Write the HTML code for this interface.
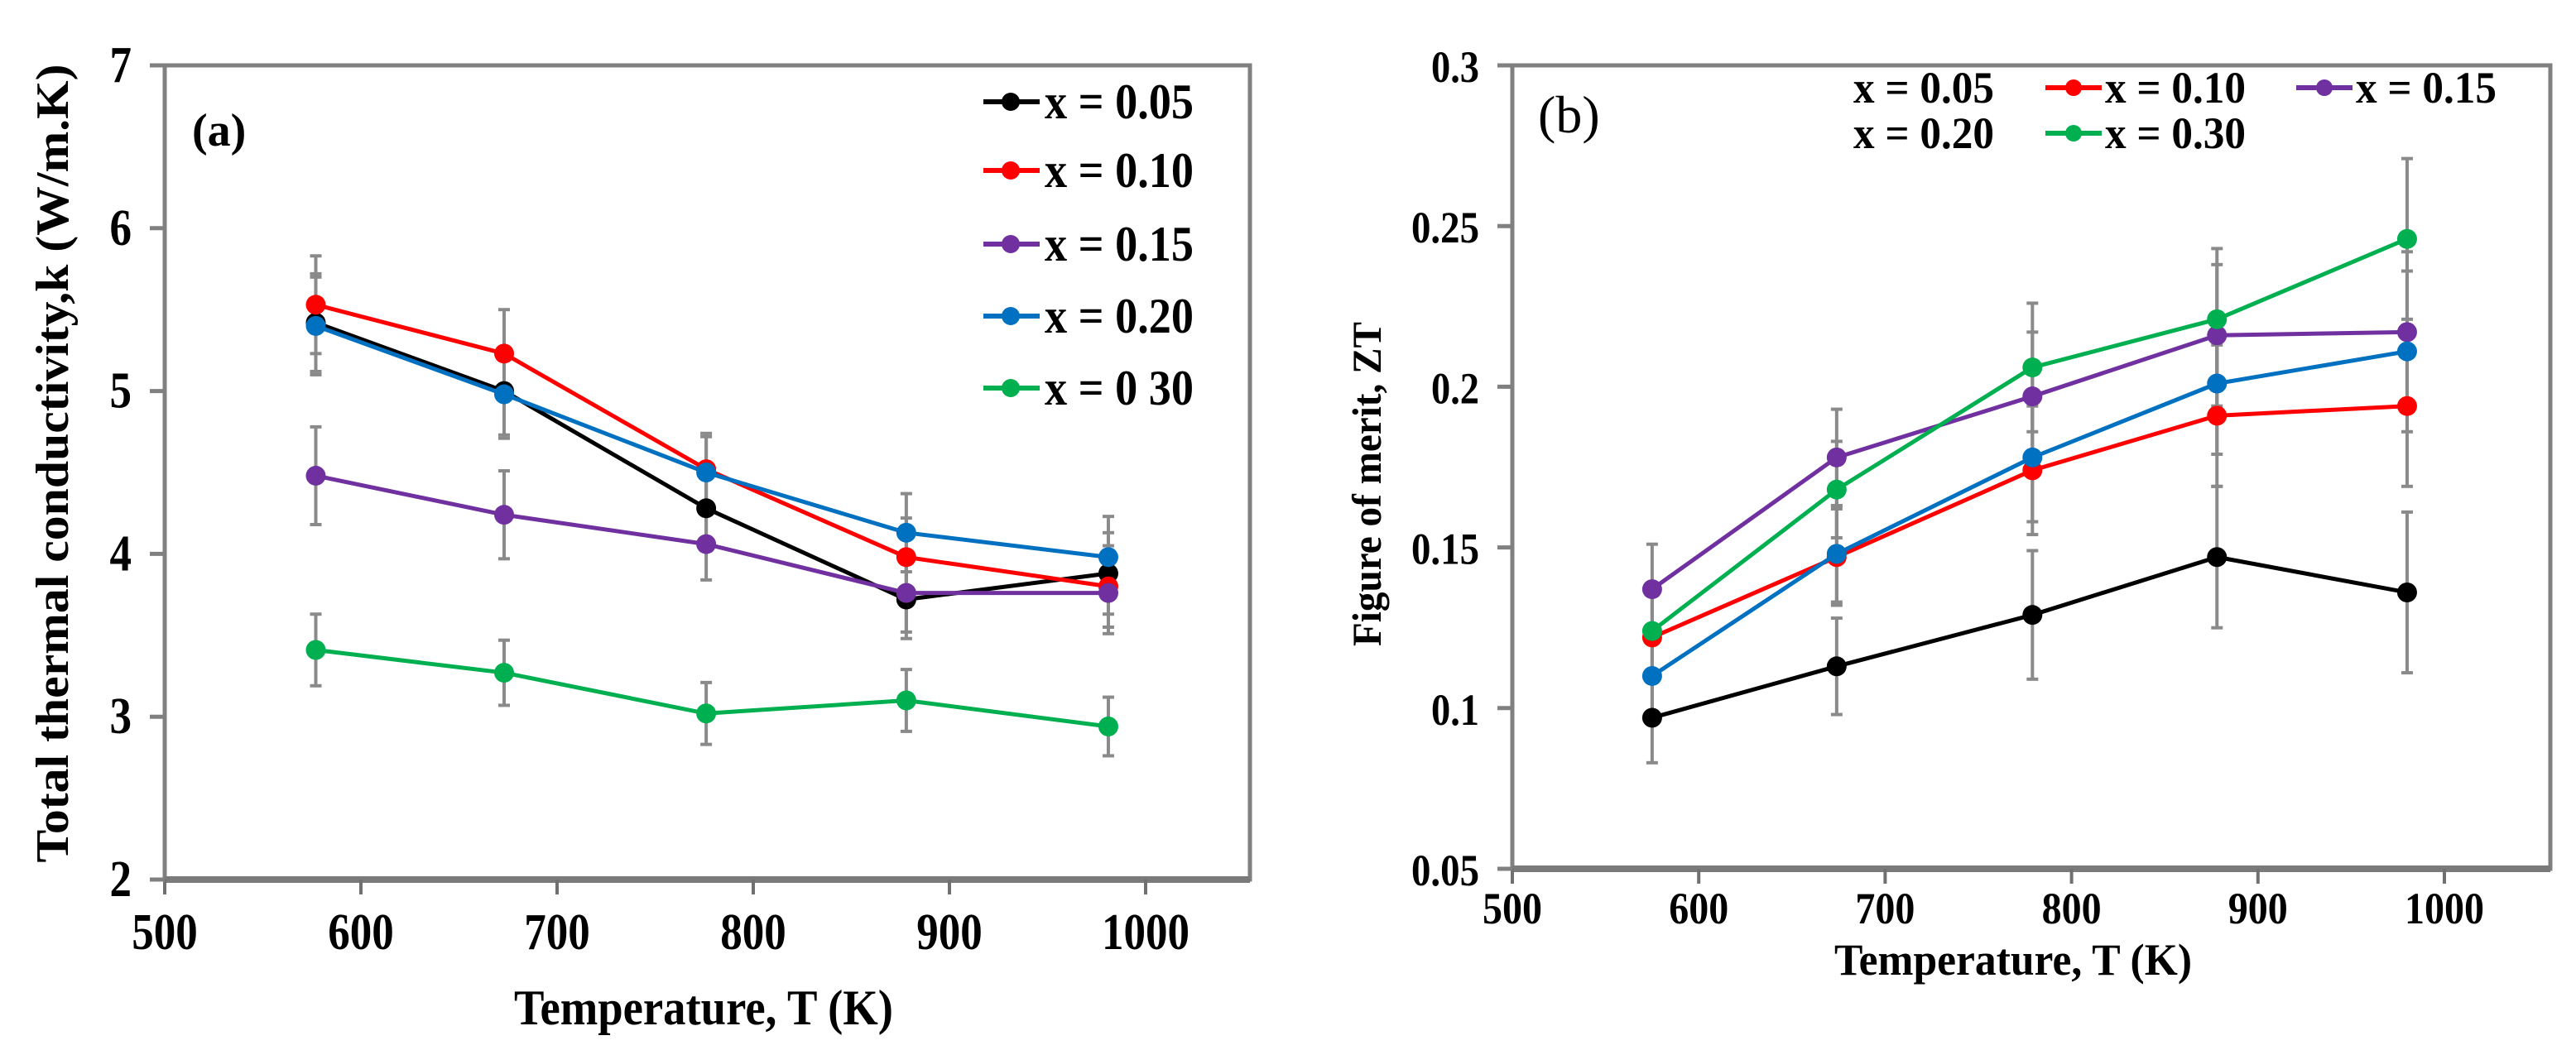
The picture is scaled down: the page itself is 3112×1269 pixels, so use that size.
<!DOCTYPE html>
<html><head><meta charset="utf-8"><style>
html,body{margin:0;padding:0;background:#fff;}
svg{display:block;font-family:"Liberation Serif",serif;font-weight:bold;}
</style></head><body>
<svg id="chart" width="3112" height="1269" viewBox="0 0 3112 1269" xmlns="http://www.w3.org/2000/svg"></svg>
<script>
const temps = [577, 673, 776, 878, 981];
const seriesNames = ["x = 0.05","x = 0.10","x = 0.15","x = 0.20","x = 0 30"];
const colors = ["#000000","#ff0000","#7030a0","#0070c0","#00b050"];
const kBlack = [5.42, 5.0, 4.28, 3.72, 3.88];
const kRed = [5.53, 5.23, 4.52, 3.98, 3.80];
const kPurple = [4.48, 4.24, 4.06, 3.76, 3.76];
const kBlue = [5.40, 4.98, 4.50, 4.13, 3.98];
const kGreen = [3.41, 3.27, 3.02, 3.10, 2.94];
const kErr = [0.3, 0.27, 0.22, 0.24, 0.25];
const kGreenErr = [0.22, 0.2, 0.19, 0.19, 0.18];
const ztTemps = [575, 674, 779, 878, 980];
const ztBlack = [0.097, 0.113, 0.129, 0.147, 0.136];
const ztRed = [0.122, 0.147, 0.174, 0.191, 0.194];
const ztPurple = [0.137, 0.178, 0.197, 0.216, 0.217];
const ztBlue = [0.110, 0.148, 0.178, 0.201, 0.211];
const ztGreen = [0.124, 0.168, 0.206, 0.221, 0.246];
const ztErr = [0.014, 0.015, 0.02, 0.022, 0.025];
const xTicks = [500, 600, 700, 800, 900, 1000];
const kTicks = [2, 3, 4, 5, 6, 7];
const ztTicks = [0.05, 0.1, 0.15, 0.2, 0.25, 0.3];
const ztTickLabels = ["0.05","0.1","0.15","0.2","0.25","0.3"];

const NS="http://www.w3.org/2000/svg";
const svg=document.getElementById('chart');
function mk(tag,attrs,parent,text){const e=document.createElementNS(NS,tag);for(const k in attrs)e.setAttribute(k,attrs[k]);if(text!==undefined)e.textContent=text;(parent||svg).appendChild(e);return e;}
function tlen(s,dw,pw){let n=0;for(const c of s){n+=(c==='.')?pw:dw;}return n;}

function panel(cfg){
  const g=mk('g',{});
  
  
  const X=v=>cfg.left+(v-500)/500*(cfg.x1000-cfg.left);
  const Y=v=>cfg.bottom-(v-cfg.ymin)/(cfg.ymax-cfg.ymin)*(cfg.bottom-cfg.top);
  const frame=mk('rect',{x:cfg.left,y:cfg.top,width:cfg.right-cfg.left,height:cfg.bottom-cfg.top,fill:'none',stroke:'#808080','stroke-width':5},g);
  
  
  mk('line',{x1:cfg.left,y1:cfg.bottom,x2:cfg.right,y2:cfg.bottom,stroke:'#7a7a7a','stroke-width':8},g);
  xTicks.forEach(t=>{
    const x=X(t);
    mk('line',{x1:x,y1:cfg.bottom,x2:x,y2:cfg.bottom+18,stroke:'#707070','stroke-width':4},g);
    const s=String(t);
    const lb=mk('text',{x:x,y:cfg.xLabelY,'text-anchor':'middle','font-size':cfg.tickSize,textLength:tlen(s,cfg.dw,cfg.pw),lengthAdjust:'spacingAndGlyphs'},g,s);
    
    
  });
  cfg.yTicks.forEach((t,i)=>{
    const y=Y(t);
    mk('line',{x1:cfg.left-18,y1:y,x2:cfg.left,y2:y,stroke:'#808080','stroke-width':5},g);
    const s=cfg.yLabels[i];
    const lb=mk('text',{x:cfg.yLabelRight,y:y+20,'text-anchor':'end','font-size':cfg.tickSize,textLength:tlen(s,cfg.dw,cfg.pw),lengthAdjust:'spacingAndGlyphs'},g,s);
    
    
  });
  const xt=mk('text',{x:cfg.xTitleX,y:cfg.xTitleY,'text-anchor':'middle','font-size':cfg.xTitleSize,textLength:cfg.xTitleLen,lengthAdjust:'spacingAndGlyphs'},g,'Temperature,  T (K)');
  
  
  const yt=mk('text',{x:0,y:0,'text-anchor':'middle','font-size':cfg.yTitleSize,textLength:cfg.yTitleLen,lengthAdjust:'spacingAndGlyphs',transform:`translate(${cfg.yTitleX},${cfg.yTitleY}) rotate(-90)`},g,cfg.yTitle);
  
  
  const pl=mk('text',{x:cfg.plX,y:cfg.plY,'font-size':cfg.plSize,'font-weight':cfg.plWeight},g,cfg.plText);
  
  
  cfg.series.forEach((s,si)=>{
    s.vals.forEach((v,i)=>{
      const x=X(cfg.xs[i]); const e=s.err[i];
      const eb=mk('g',{stroke:'#8a8a8a','stroke-width':4},g);
      
      
      mk('line',{x1:x,y1:Y(v-e),x2:x,y2:Y(v+e)},eb);
      mk('line',{x1:x-7,y1:Y(v-e),x2:x+7,y2:Y(v-e)},eb);
      mk('line',{x1:x-7,y1:Y(v+e),x2:x+7,y2:Y(v+e)},eb);
    });
  });
  cfg.series.forEach((s,si)=>{
    const sg=mk('g',{},g);
    
    
    const pts=s.vals.map((v,i)=>X(cfg.xs[i])+','+Y(v)).join(' ');
    mk('polyline',{points:pts,fill:'none',stroke:s.color,'stroke-width':5},sg);
    s.vals.forEach((v,i)=>{
      const c=mk('circle',{cx:X(cfg.xs[i]),cy:Y(v),r:12,fill:s.color},sg);
      
      
    });
  });
  return g;
}

panel({name:'panel-a-thermal-conductivity',left:199,right:1510,top:79,bottom:1063,x1000:1384,ymin:2,ymax:7,
  yTicks:kTicks,yLabels:kTicks.map(String),yLabelRight:159,xLabelY:1147,tickSize:62,dw:26.5,pw:11,
  xTitleX:850,xTitleY:1238,xTitleSize:60,xTitleLen:458,
  yTitle:'Total thermal  conductivity,k  (W/m.K)',yTitleX:82,yTitleY:560,yTitleSize:56,yTitleLen:965,
  plX:232,plY:176,plSize:56,plWeight:'bold',plText:'(a)',xs:temps,
  series:[{name:seriesNames[0],color:colors[0],vals:kBlack,err:kErr},
          {name:seriesNames[1],color:colors[1],vals:kRed,err:kErr},
          {name:seriesNames[2],color:colors[2],vals:kPurple,err:kErr},
          {name:seriesNames[3],color:colors[3],vals:kBlue,err:kErr},
          {name:seriesNames[4],color:colors[4],vals:kGreen,err:kGreenErr}]});

panel({name:'panel-b-figure-of-merit',left:1827,right:3081,top:79,bottom:1050,x1000:2953,ymin:0.05,ymax:0.3,
  yTicks:ztTicks,yLabels:ztTickLabels,yLabelRight:1787,xLabelY:1116,tickSize:54,dw:24,pw:10,
  xTitleX:2432,xTitleY:1178,xTitleSize:54,xTitleLen:432,
  yTitle:'Figure of merit,  ZT',yTitleX:1668,yTitleY:585,yTitleSize:50,yTitleLen:392,
  plX:1858,plY:160,plSize:64,plWeight:'normal',plText:'(b)',xs:ztTemps,
  series:[{name:seriesNames[0],color:colors[0],vals:ztBlack,err:ztErr},
          {name:seriesNames[1],color:colors[1],vals:ztRed,err:ztErr},
          {name:seriesNames[2],color:colors[2],vals:ztPurple,err:ztErr},
          {name:seriesNames[3],color:colors[3],vals:ztBlue,err:ztErr},
          {name:'x = 0.30',color:colors[4],vals:ztGreen,err:ztErr}]});

const legA=mk('g',{});


const legAY=[123,206,295,382,469];
seriesNames.forEach((n,i)=>{
  const e=mk('g',{},legA);
  
  
  mk('line',{x1:1188,y1:legAY[i],x2:1256,y2:legAY[i],stroke:colors[i],'stroke-width':6},e);
  mk('circle',{cx:1221,cy:legAY[i],r:11,fill:colors[i]},e);
  mk('text',{x:1262,y:legAY[i]+20,'font-size':60,textLength:180,lengthAdjust:'spacingAndGlyphs'},e,n);
});
const legB=mk('g',{});


const legBItems=[["x = 0.05",2239,106,null],["x = 0.10",2543,106,colors[1]],["x = 0.15",2846,106,colors[2]],["x = 0.20",2239,161,null],["x = 0.30",2543,161,colors[4]]];
legBItems.forEach(it=>{
  const e=mk('g',{},legB);
  
  
  if(it[3]){
    mk('line',{x1:it[1]-72,y1:it[2],x2:it[1]-4,y2:it[2],stroke:it[3],'stroke-width':6},e);
    mk('circle',{cx:it[1]-38,cy:it[2],r:10,fill:it[3]},e);
  }
  mk('text',{x:it[1],y:it[2]+18,'font-size':54,textLength:170,lengthAdjust:'spacingAndGlyphs'},e,it[0]);
});
</script>
</body></html>
